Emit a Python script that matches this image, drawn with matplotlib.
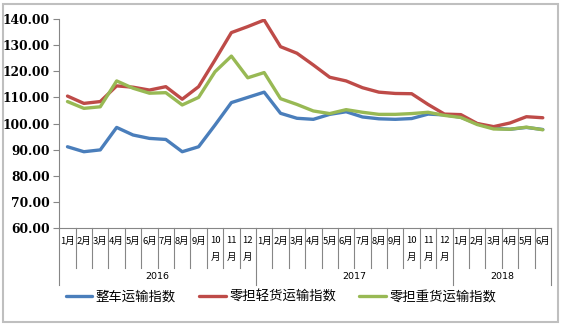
# 公路物流运价指数走势图

import numpy as np
import matplotlib
matplotlib.use('Agg')
import matplotlib.pyplot as plt
from matplotlib.patches import Rectangle
from matplotlib.ticker import FormatStrFormatter

plt.rcParams['font.family'] = ['Noto Sans CJK SC', 'DejaVu Sans']

# %% 数据（2016年1月 - 2018年6月）
months = ['1月', '2月', '3月', '4月', '5月', '6月', '7月', '8月', '9月', '10月', '11月', '12月',
          '1月', '2月', '3月', '4月', '5月', '6月', '7月', '8月', '9月', '10月', '11月', '12月',
          '1月', '2月', '3月', '4月', '5月', '6月']
years = ['2016', '2017', '2018']
year_len = [12, 12, 6]

zhengche = [91.1, 89.2, 89.9, 98.5, 95.6, 94.3, 93.9, 89.2, 91.1, 99.4, 108.0, 110.0,
            112.0, 103.9, 102.0, 101.6, 103.5, 104.5, 102.5, 101.8, 101.6, 101.9, 103.6, 103.3,
            102.4, 99.9, 98.2, 97.8, 98.5, 97.7]
lingdan_qing = [110.5, 107.7, 108.4, 114.4, 113.9, 112.8, 114.1, 109.3, 114.1, 124.3, 134.8, 137.1,
                139.6, 129.4, 126.9, 122.4, 117.7, 116.3, 113.7, 112.0, 111.5, 111.4, 107.3, 103.6,
                103.4, 100.0, 98.8, 100.2, 102.6, 102.2]
lingdan_zhong = [108.4, 105.8, 106.4, 116.3, 113.5, 111.6, 111.8, 107.1, 110.0, 119.8, 125.8, 117.5,
                 119.5, 109.5, 107.3, 104.8, 103.8, 105.3, 104.3, 103.5, 103.5, 103.8, 104.3, 103.1,
                 102.3, 99.6, 97.9, 97.8, 98.6, 97.6]

series = [('整车运输指数', zhengche, '#4A7EBB'),
          ('零担轻货运输指数', lingdan_qing, '#BE4B48'),
          ('零担重货运输指数', lingdan_zhong, '#98B954')]

gris = '#868686'

# %% 图形
fig = plt.figure(figsize=(5.62, 3.26), dpi=100)
ax = fig.add_axes([0.1055, 0.3006, 0.8749, 0.6411])

x = np.arange(len(months))
handles = []
for nombre, valores, color in series:
    h, = ax.plot(x, valores, color=color, lw=2.4, solid_joinstyle='round',
                 solid_capstyle='round', label=nombre)
    handles.append(h)

ax.set_xlim(-0.5, len(months) - 0.5)
ax.set_ylim(60, 140)
ax.set_yticks(np.arange(60, 141, 10))
ax.yaxis.set_major_formatter(FormatStrFormatter('%.2f'))
ax.tick_params(axis='y', direction='out', length=4, color=gris, width=0.8, pad=3)
for lab in ax.get_yticklabels():
    lab.set_family('DejaVu Serif')
    lab.set_fontweight('bold')
    lab.set_fontsize(8.8)
ax.set_xticks([])

for s in ['top', 'right']:
    ax.spines[s].set_visible(False)
for s in ['left', 'bottom']:
    ax.spines[s].set_color(gris)
    ax.spines[s].set_linewidth(0.8)

# %% 分类轴：月份与年份
trans = ax.get_xaxis_transform()
limites = np.cumsum([0] + year_len) - 0.5
for b in np.arange(-0.5, len(months), 1):
    fondo = -0.273 if b in limites else -0.19
    ax.plot([b, b], [0, fondo], transform=trans, clip_on=False, color=gris, lw=0.8)

for i, m in enumerate(months):
    if len(m) > 2:
        ax.text(i, -0.062, m[:-1], transform=trans, ha='center', va='center', fontsize=6.8)
        ax.text(i, -0.139, '月', transform=trans, ha='center', va='center', fontsize=6.8)
    else:
        ax.text(i, -0.062, m, transform=trans, ha='center', va='center', fontsize=6.8)

for k, y in enumerate(years):
    centro = (limites[k] + limites[k + 1]) / 2
    ax.text(centro, -0.234, y, transform=trans, ha='center', va='center',
            fontsize=6.8, family='DejaVu Sans')

# %% 图例与边框
fig.legend(handles, [s[0] for s in series], loc='center', bbox_to_anchor=(0.5, 1 - 297 / 326),
           ncol=3, frameon=False, fontsize=9.6, handlelength=2.0, handletextpad=0.25,
           columnspacing=1.75)

fig.patches.append(Rectangle((3 / 562, 4 / 326), 555 / 562, 318 / 326, transform=fig.transFigure,
                             fill=False, ec='#BFBFBF', lw=1.5))

fig.savefig('out.png', dpi=100)
